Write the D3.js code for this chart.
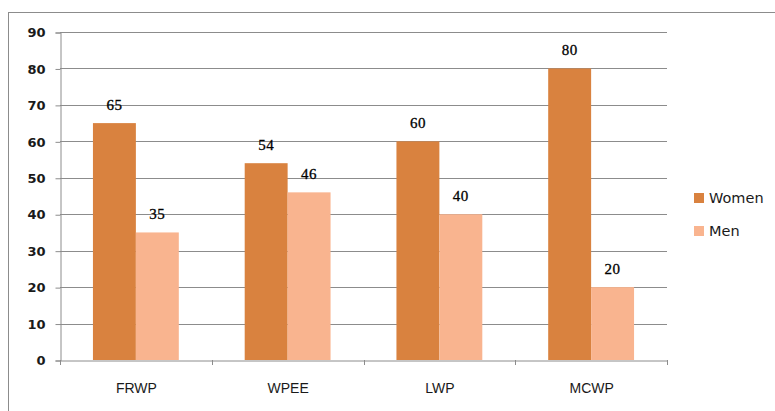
<!DOCTYPE html>
<html><head><meta charset="utf-8">
<script src="https://cdn.jsdelivr.net/npm/d3@7"></script>
<style>body{margin:0;background:#fff}svg{display:block}</style>
</head><body>
<script>
const categories = ["FRWP", "WPEE", "LWP", "MCWP"];
const seriesNames = ["Women", "Men"];
const women = [65, 54, 60, 80];
const men = [35, 46, 40, 20];
const yTicks = [0, 10, 20, 30, 40, 50, 60, 70, 80, 90];
const colors = ["#D9823F", "#F9B48F"];

const W = 775, H = 411;
const svg = d3.select("body").append("svg").attr("width", W).attr("height", H);
svg.append("rect").attr("x", 8.5).attr("y", 12.5).attr("width", W).attr("height", H)
  .attr("fill", "none").attr("stroke", "#8c8c8c");

const pL = 60, pR = 667, pT = 32, pB = 360;
const x = d3.scaleBand().domain(categories).range([pL, pR]).paddingInner(0).paddingOuter(0);
const y = d3.scaleLinear().domain([0, 90]).range([pB, pT]);
const inner = d3.scaleBand().domain(seriesNames).range([0, x.bandwidth()]).paddingInner(0).paddingOuter(33/43);

// gridlines
svg.append("g").selectAll("line").data(yTicks.filter(d => d > 0)).join("line")
  .attr("x1", pL).attr("x2", pR).attr("y1", d => Math.round(y(d)) + 0.5).attr("y2", d => Math.round(y(d)) + 0.5)
  .attr("stroke", "#8c8c8c").attr("stroke-width", 1);

// y axis
const yAxis = svg.append("g").attr("transform", `translate(${pL + 0.5},0.5)`)
  .call(d3.axisLeft(y).tickValues(yTicks).tickSize(5).tickPadding(10));
yAxis.select(".domain").attr("stroke", "#8c8c8c");
yAxis.selectAll(".tick line").attr("stroke", "#8c8c8c");
yAxis.selectAll("text").attr("font-family", "DejaVu Sans").attr("font-size", 13).attr("font-weight", "bold").attr("fill", "#1a1a1a");

// x axis
const xAxis = svg.append("g").attr("transform", `translate(0.5,${pB + 0.5})`)
  .call(d3.axisBottom(x).tickSize(0).tickPadding(23));
xAxis.select(".domain").attr("stroke", "#8c8c8c");
xAxis.selectAll("text").attr("font-family", "Liberation Sans").attr("font-size", 14).attr("fill", "#1a1a1a");
const xTickPos = [...categories.map(c => x(c)), x(categories[categories.length - 1]) + x.bandwidth()];
svg.append("g").selectAll("line").data(xTickPos).join("line")
  .attr("x1", d => Math.round(d) + 0.5).attr("x2", d => Math.round(d) + 0.5)
  .attr("y1", pB).attr("y2", pB + 5).attr("stroke", "#8c8c8c");

const series = [women, men];
const groups = svg.append("g").selectAll("g").data(series).join("g")
  .attr("fill", (d, i) => colors[i]);
groups.each(function(vals, si) {
  const g = d3.select(this);
  g.selectAll("rect").data(vals).join("rect")
    .attr("x", (d, i) => x(categories[i]) + inner(seriesNames[si]))
    .attr("width", inner.bandwidth())
    .attr("y", d => y(d)).attr("height", d => y(0) - y(d));
  svg.append("g").selectAll("text").data(vals).join("text")
    .attr("x", (d, i) => x(categories[i]) + inner(seriesNames[si]) + inner.bandwidth() / 2)
    .attr("y", d => y(d) - 13)
    .attr("text-anchor", "middle")
    .attr("font-family", "Liberation Serif").attr("font-size", 15).attr("letter-spacing", 0.5)
    .attr("stroke", "#000").attr("stroke-width", 0.3).attr("fill", "#000")
    .text(d => d);
});

// legend
const lg = svg.append("g").selectAll("g").data(seriesNames).join("g")
  .attr("transform", (d, i) => `translate(694,${193 + i * 33})`);
lg.append("rect").attr("width", 10).attr("height", 10).attr("fill", (d, i) => colors[i]);
lg.append("text").attr("x", 15).attr("y", 10).attr("font-family", "DejaVu Sans").attr("font-size", 14.5)
  .attr("fill", "#1a1a1a").text(d => d);
</script>
</body></html>
